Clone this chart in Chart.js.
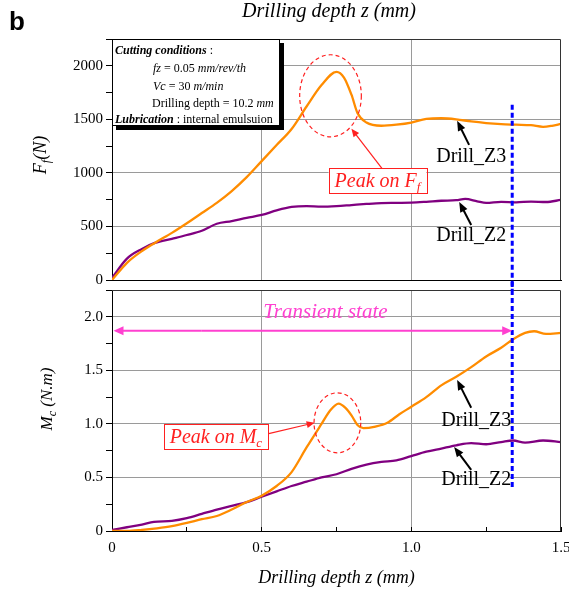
<!DOCTYPE html>
<html><head><meta charset="utf-8">
<script src="https://cdn.jsdelivr.net/npm/chart.js@4.4.0/dist/chart.umd.min.js"></script>
<style>
html,body{margin:0;padding:0;background:#fff;}
#wrap{position:relative;width:569px;height:592px;overflow:hidden;background:#fff;}
#c1{position:absolute;left:0;top:0;}
#c2{position:absolute;left:0;top:282px;}
</style></head><body>
<div id="wrap"><canvas id="c1" width="569" height="290"></canvas><canvas id="c2" width="569" height="310"></canvas></div>
<script>
// ---- data: thrust force Ff (N) vs drilling depth z (mm)
const zF3=[0,0.05,0.1,0.143,0.2,0.25,0.3,0.35,0.4,0.45,0.5,0.55,0.6,0.65,0.7,0.75,0.775,0.8,0.82,0.85,0.9,0.95,1.0,1.05,1.1,1.15,1.2,1.25,1.3,1.35,1.4,1.44,1.47,1.5];
const F3=[0,160,270,346,440,530,625,720,830,960,1110,1260,1410,1620,1820,1944,1890,1730,1560,1470,1440,1450,1470,1505,1510,1500,1480,1465,1455,1450,1445,1430,1440,1458];
const zF2=[0,0.05,0.1,0.143,0.2,0.25,0.3,0.35,0.4,0.45,0.5,0.55,0.6,0.65,0.7,0.75,0.8,0.85,0.9,0.95,1.0,1.05,1.1,1.15,1.18,1.22,1.25,1.3,1.35,1.4,1.45,1.5];
const F2=[20,200,290,346,385,420,460,525,550,580,607,650,682,690,685,690,700,710,718,720,722,730,740,745,757,735,720,730,725,732,728,748];
// ---- data: cutting torque Mc (N.m) vs drilling depth z (mm)
const zM3=[0,0.05,0.1,0.15,0.2,0.25,0.3,0.35,0.4,0.45,0.5,0.55,0.6,0.65,0.7,0.73,0.757,0.78,0.8,0.82,0.84,0.88,0.92,0.96,1.0,1.05,1.1,1.15,1.2,1.25,1.3,1.34,1.38,1.41,1.45,1.5];
const M3=[0,0,0.01,0.025,0.045,0.075,0.11,0.14,0.2,0.27,0.33,0.42,0.55,0.78,1.0,1.13,1.19,1.15,1.08,0.99,0.96,0.975,1.01,1.09,1.16,1.25,1.36,1.44,1.53,1.63,1.71,1.79,1.85,1.865,1.84,1.85];
const zM2=[0,0.05,0.1,0.14,0.2,0.25,0.3,0.35,0.4,0.45,0.5,0.55,0.6,0.65,0.7,0.75,0.8,0.85,0.9,0.95,1.0,1.05,1.1,1.15,1.2,1.25,1.3,1.34,1.38,1.44,1.5];
const M2=[0.01,0.035,0.06,0.085,0.095,0.12,0.16,0.2,0.235,0.27,0.32,0.37,0.42,0.46,0.5,0.53,0.58,0.62,0.645,0.66,0.7,0.74,0.77,0.8,0.82,0.81,0.83,0.845,0.825,0.845,0.83];
const seriesNames=['Drill_Z3','Drill_Z2'];
const steadyZ=1.337;

const SERIF='"Liberation Serif","Times New Roman",serif';
const ORANGE='#ff8c00', PURPLE='#800080';
function pts(xs,ys){return xs.map((x,i)=>({x:x,y:ys[i]}));}
function richWidth(ctx,parts){let w=0;parts.forEach(p=>{ctx.font=p.f;w+=ctx.measureText(p.t).width;});return w;}
function drawRich(ctx,parts,x,y,align,color){
  const w=richWidth(ctx,parts); let cx=align==='center'?x-w/2:x;
  ctx.textBaseline='alphabetic'; ctx.textAlign='left';
  parts.forEach(p=>{ctx.font=p.f;ctx.fillStyle=p.c||color;ctx.fillText(p.t,cx,y+(p.dy||0));cx+=ctx.measureText(p.t).width;});
  return w;
}
function arrow(ctx,x1,y1,x2,y2,color,lw,hl,hw){
  const a=Math.atan2(y2-y1,x2-x1),c=Math.cos(a),s=Math.sin(a);
  ctx.save();ctx.strokeStyle=color;ctx.fillStyle=color;ctx.lineWidth=lw;ctx.setLineDash([]);
  ctx.beginPath();ctx.moveTo(x1,y1);ctx.lineTo(x2-hl*c*0.8,y2-hl*s*0.8);ctx.stroke();
  ctx.beginPath();ctx.moveTo(x2,y2);
  ctx.lineTo(x2-hl*c+hw*s,y2-hl*s-hw*c);
  ctx.lineTo(x2-hl*c-hw*s,y2-hl*s+hw*c);
  ctx.closePath();ctx.fill();ctx.restore();
}
function frame(ctx,a){
  ctx.save();ctx.strokeStyle='#333';ctx.lineWidth=1;ctx.setLineDash([]);
  ctx.beginPath();ctx.moveTo(a.left,a.top+0.5);ctx.lineTo(a.right-0.5,a.top+0.5);ctx.lineTo(a.right-0.5,a.bottom);ctx.stroke();
  ctx.restore();
}
function dashedEllipse(ctx,cx,cy,rx,ry){
  ctx.save();ctx.strokeStyle='#ff2020';ctx.lineWidth=1.2;ctx.setLineDash([4,3]);
  ctx.beginPath();ctx.ellipse(cx,cy,rx,ry,0,0,Math.PI*2);ctx.stroke();ctx.restore();
}
function peakBox(ctx,cx,cy,letter,sub){
  const parts=[{t:'Peak on '+letter,f:'italic 20px '+SERIF},{t:sub,f:'italic 13px '+SERIF,dy:4}];
  ctx.save();
  const w=richWidth(ctx,parts)+12,h=25;
  ctx.fillStyle='#fff';ctx.fillRect(cx-w/2,cy-h/2,w,h);
  ctx.strokeStyle='#ff2020';ctx.lineWidth=1;ctx.strokeRect(Math.round(cx-w/2)+0.5,Math.round(cy-h/2)+0.5,Math.round(w),h);
  drawRich(ctx,parts,cx,cy+6,'center','#ff2020');ctx.restore();
}
function label(ctx,t,x,y){ctx.save();ctx.font='20px '+SERIF;ctx.fillStyle='#000';ctx.textAlign='center';ctx.textBaseline='middle';ctx.fillText(t,x,y);ctx.restore();}
function yTitle(ctx,x,y,parts){ctx.save();ctx.translate(x,y);ctx.rotate(-Math.PI/2);drawRich(ctx,parts,0,6,'center','#000');ctx.restore();}

const topAnno={id:'topAnno',afterDraw(chart){
  const {ctx,chartArea:a,scales:{x,y}}=chart;
  const X=v=>x.getPixelForValue(v),Y=v=>y.getPixelForValue(v);
  frame(ctx,a);
  // blue steady-state line
  ctx.save();ctx.strokeStyle='#0000ff';ctx.lineWidth=3;ctx.setLineDash([5,3]);
  ctx.beginPath();ctx.moveTo(X(steadyZ),Y(1636));ctx.lineTo(X(steadyZ),chart.height);ctx.stroke();ctx.restore();
  // conditions box
  const bx=a.left,by=a.top,bw=168,bh=87;
  ctx.save();ctx.fillStyle='#000';ctx.fillRect(bx+4,by+4,bw,bh);
  ctx.fillStyle='#fff';ctx.fillRect(bx,by,bw,bh);
  ctx.strokeStyle='#000';ctx.lineWidth=1;ctx.strokeRect(bx+0.5,by+0.5,bw-1,bh-1);
  const fs=12,N=fs+'px '+SERIF,I='italic '+fs+'px '+SERIF,B='italic bold '+fs+'px '+SERIF;
  drawRich(ctx,[{t:'Cutting conditions',f:B},{t:' :',f:N}],bx+3,by+15,'left','#000');
  drawRich(ctx,[{t:'fz',f:I},{t:' = 0.05 ',f:N},{t:'mm/rev/th',f:I}],bx+41,by+33,'left','#000');
  drawRich(ctx,[{t:'Vc',f:I},{t:' = 30 ',f:N},{t:'m/min',f:I}],bx+41,by+51,'left','#000');
  drawRich(ctx,[{t:'Drilling depth = 10.2 ',f:N},{t:'mm',f:I}],bx+40,by+68,'left','#000');
  drawRich(ctx,[{t:'Lubrication',f:B},{t:' : internal emulsuion',f:N}],bx+3,by+84,'left','#000');
  ctx.restore();
  // peak annotation
  dashedEllipse(ctx,X(0.73),Y(1720),X(0.103)-X(0),Y(0)-Y(383));
  arrow(ctx,X(0.903),Y(1037),X(0.8),Y(1411),'#ff2020',1.2,8,3.5);
  peakBox(ctx,X(0.887),Y(925),'F','f');
  // series labels
  arrow(ctx,X(1.193),Y(1262),X(1.153),Y(1486),'#000',2,10,4);
  label(ctx,seriesNames[0],X(1.2),Y(1150));
  arrow(ctx,X(1.2),Y(514),X(1.16),Y(729),'#000',2,10,4);
  label(ctx,seriesNames[1],X(1.2),Y(411));
  // y title, top title, panel letter
  yTitle(ctx,40,155,[{t:'F',f:'italic 18px '+SERIF},{t:'f',f:'italic 12px '+SERIF,dy:4},{t:'(N)',f:'italic 18px '+SERIF}]);
  ctx.save();ctx.font='italic 20px '+SERIF;ctx.fillStyle='#000';ctx.textAlign='center';ctx.textBaseline='middle';
  ctx.fillText('Drilling depth z (mm)',329,12);
  ctx.font='bold 26px "Liberation Sans",Arial,sans-serif';ctx.textAlign='left';ctx.fillText('b',9,23);
  ctx.restore();
}};

const botAnno={id:'botAnno',afterDraw(chart){
  const {ctx,chartArea:a,scales:{x,y}}=chart;
  const X=v=>x.getPixelForValue(v),Y=v=>y.getPixelForValue(v);
  frame(ctx,a);
  ctx.save();ctx.strokeStyle='#0000ff';ctx.lineWidth=3;ctx.setLineDash([5,3]);
  ctx.beginPath();ctx.moveTo(X(steadyZ),0);ctx.lineTo(X(steadyZ),Y(0.4));ctx.stroke();ctx.restore();
  // transient state
  const MAG='#ff40d0';
  arrow(ctx,X(0.3),Y(1.87),X(0.005),Y(1.87),MAG,2,10,4.5);
  arrow(ctx,X(0.3),Y(1.87),X(steadyZ),Y(1.87),MAG,2,10,4.5);
  ctx.save();ctx.font='italic 21px '+SERIF;ctx.fillStyle=MAG;ctx.textAlign='center';ctx.textBaseline='middle';
  ctx.fillText('Transient state',X(0.713),Y(2.04));ctx.restore();
  dashedEllipse(ctx,X(0.753),Y(1.01),X(0.078)-X(0),Y(0)-Y(0.28));
  arrow(ctx,X(0.52),Y(0.907),X(0.677),Y(1.01),'#ff2020',1.2,8,3.5);
  peakBox(ctx,X(0.347),Y(0.879),'M','c');
  arrow(ctx,X(1.2),Y(1.15),X(1.153),Y(1.41),'#000',2,10,4);
  label(ctx,seriesNames[0],X(1.217),Y(1.03));
  arrow(ctx,X(1.2),Y(0.57),X(1.143),Y(0.785),'#000',2,10,4);
  label(ctx,seriesNames[1],X(1.217),Y(0.477));
  yTitle(ctx,46,117,[{t:'M',f:'italic 17px '+SERIF},{t:'c',f:'italic 12px '+SERIF,dy:4},{t:' (N.m)',f:'italic 17px '+SERIF}]);
}};

const tickFont={family:SERIF,size:15};
function ds(xs,ys,name,color){return {label:name,data:pts(xs,ys),borderColor:color,backgroundColor:color,borderWidth:2.3,pointRadius:0,cubicInterpolationMode:'monotone',fill:false};}
function xScale(showLabels){
  return {type:'linear',min:0,max:1.5,
    ticks:{display:showLabels,stepSize:0.25,font:tickFont,color:'#000',padding:12,maxRotation:0,autoSkip:false,
      callback:v=>{const r=Math.round(v*100);return r===0?'0':(r%50===0?(r/100).toFixed(1):'');}},
    grid:{drawTicks:showLabels,tickLength:-4,tickColor:'#000',
      color:c=>{if(!c.tick)return 'rgba(0,0,0,0)';const r=Math.round(c.tick.value*100);return (r>0&&r<150&&r%50===0)?'#9a9a9a':'rgba(0,0,0,0)';}},
    border:{color:'#000',width:1},
    title:{display:showLabels,text:'Drilling depth z (mm)',font:{family:SERIF,size:18,style:'italic'},color:'#000',padding:{top:0,bottom:3}},
    afterFit:s=>{s.height=showLabels?61:10;s.paddingLeft=0;s.paddingRight=0;}};
}

new Chart(document.getElementById('c1'),{
  type:'line',
  data:{datasets:[ds(zF3,F3,seriesNames[0],ORANGE),ds(zF2,F2,seriesNames[1],PURPLE)]},
  options:{responsive:false,animation:false,
    layout:{padding:{top:39,right:8,left:0,bottom:0}},
    plugins:{legend:{display:false},tooltip:{enabled:false}},
    scales:{x:xScale(false),
      y:{min:0,max:2250,
        ticks:{stepSize:250,font:tickFont,color:'#000',padding:3,autoSkip:false,callback:v=>(v%500===0&&v<2250)?String(v):''},
        grid:{tickLength:6,tickColor:'#000',color:c=>{if(!c.tick)return 'rgba(0,0,0,0)';const v=c.tick.value;return (v>0&&v<2250&&v%500===0)?'#9a9a9a':'rgba(0,0,0,0)';}},
        border:{color:'#000',width:1},
        afterFit:s=>{s.width=112;s.paddingTop=0;s.paddingBottom=0;}}}},
  plugins:[topAnno]});

new Chart(document.getElementById('c2'),{
  type:'line',
  data:{datasets:[ds(zM3,M3,seriesNames[0],ORANGE),ds(zM2,M2,seriesNames[1],PURPLE)]},
  options:{responsive:false,animation:false,
    layout:{padding:{top:8,right:8,left:0,bottom:0}},
    plugins:{legend:{display:false},tooltip:{enabled:false}},
    scales:{x:xScale(true),
      y:{min:0,max:2.25,
        ticks:{stepSize:0.25,font:tickFont,color:'#000',padding:3,autoSkip:false,
          callback:v=>{const r=Math.round(v*100);return r===0?'0':((r%50===0&&r<225)?(r/100).toFixed(1):'');}},
        grid:{tickLength:6,tickColor:'#000',color:c=>{if(!c.tick)return 'rgba(0,0,0,0)';const r=Math.round(c.tick.value*100);return (r>0&&r<225&&r%50===0)?'#9a9a9a':'rgba(0,0,0,0)';}},
        border:{color:'#000',width:1},
        afterFit:s=>{s.width=112;s.paddingTop=0;s.paddingBottom=0;}}}},
  plugins:[botAnno]});
</script></body></html>
